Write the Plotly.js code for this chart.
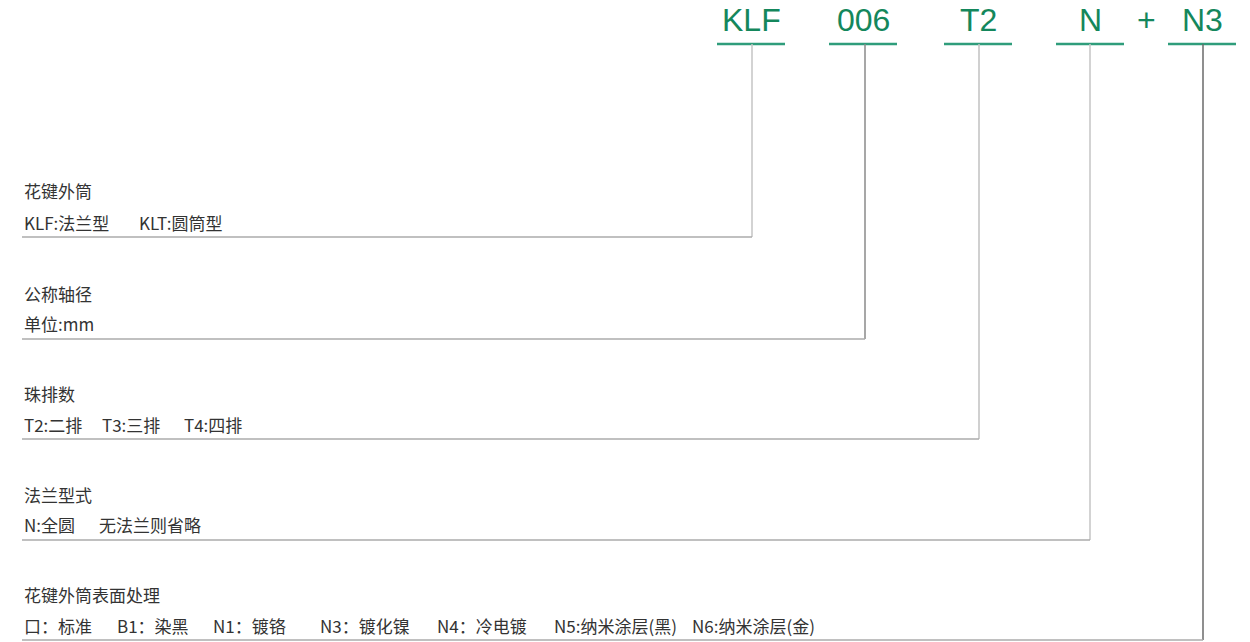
<!DOCTYPE html>
<html><head><meta charset="utf-8">
<script src="https://cdn.plot.ly/plotly-3.0.1.min.js"></script>
<style>html,body{margin:0;padding:0;background:#fff;}#chart{width:1250px;height:642px;}</style>
</head><body><div id="chart"></div>
<script>
// Code segments of the part number
const codes = ['KLF', '006', 'T2', 'N', 'N3'];
const codeX = [751, 863, 978, 1090, 1202];
const stemX = [752, 865, 979, 1090, 1203];
const rowLineY = [237, 339, 439, 540, 640];
const stemColors = ['#c4c4c4', '#8a8a8a', '#c0c0c0', '#c4c4c4', '#6a6a6a'];
// Row titles and descriptions
const rowTitles = ['花键外筒', '公称轴径', '珠排数', '法兰型式', '花键外筒表面处理'];
const rowTitleY = [190, 293, 393, 494, 594];
const rowDescY = [222, 323, 424, 524, 625];
const rowItems = [
  ['KLF:法兰型', 'KLT:圆筒型'],
  ['单位:mm'],
  ['T2:二排', 'T3:三排', 'T4:四排'],
  ['N:全圆', '无法兰则省略'],
  ['口：标准', 'B1：染黑', 'N1：镀铬', 'N3：镀化镍', 'N4：冷电镀', 'N5:纳米涂层(黑)', 'N6:纳米涂层(金)']
];
const rowItemX = [
  [22, 137],
  [22],
  [22, 100, 182],
  [22, 97],
  [22, 115, 211, 318, 435, 552, 690]
];

const headY = 44, leftX = 22, underHalf = 34;
const green = '#14875c', underGreen = '#2f9d7b';
const cjk = '"Noto Sans CJK SC", "Noto Sans", sans-serif';

const traces = [];
const annotations = [];
codes.forEach((c, i) => {
  traces.push({x: [codeX[i] - underHalf, codeX[i] + underHalf], y: [headY, headY], mode: 'lines',
    line: {color: underGreen, width: 2.5}, hoverinfo: 'skip', showlegend: false});
  traces.push({x: [stemX[i], stemX[i]], y: [headY, rowLineY[i]], mode: 'lines',
    line: {color: stemColors[i], width: 1.5}, hoverinfo: 'skip', showlegend: false});
  traces.push({x: [leftX, stemX[i]], y: [rowLineY[i], rowLineY[i]], mode: 'lines',
    line: {color: '#ababab', width: 1.5}, hoverinfo: 'skip', showlegend: false});
  annotations.push({x: codeX[i], y: 33, xref: 'x', yref: 'y', text: c, showarrow: false,
    xanchor: 'center', yanchor: 'bottom', yshift: -7,
    font: {family: '"Liberation Sans", Arial, sans-serif', size: 32, color: green}});
  annotations.push({x: leftX, y: rowTitleY[i], xref: 'x', yref: 'y', text: rowTitles[i], showarrow: false,
    xanchor: 'left', yanchor: 'middle', font: {family: cjk, size: 17, color: '#333333'}});
  rowItems[i].forEach((t, j) => {
    annotations.push({x: rowItemX[i][j], y: rowDescY[i], xref: 'x', yref: 'y', text: t, showarrow: false,
      xanchor: 'left', yanchor: 'middle', font: {family: cjk, size: 17, color: '#333333'}});
  });
});
annotations.push({x: 1146, y: 33, xref: 'x', yref: 'y', text: '+', showarrow: false,
  xanchor: 'center', yanchor: 'bottom', yshift: -7,
  font: {family: '"Liberation Sans", Arial, sans-serif', size: 32, color: green}});

const layout = {
  width: 1250, height: 642,
  margin: {l: 0, r: 0, t: 0, b: 0},
  paper_bgcolor: '#ffffff', plot_bgcolor: '#ffffff',
  xaxis: {range: [0, 1250], visible: false, fixedrange: true},
  yaxis: {range: [642, 0], visible: false, fixedrange: true},
  annotations: annotations,
  showlegend: false
};
Plotly.newPlot('chart', traces, layout, {displayModeBar: false, staticPlot: true});
</script></body></html>
